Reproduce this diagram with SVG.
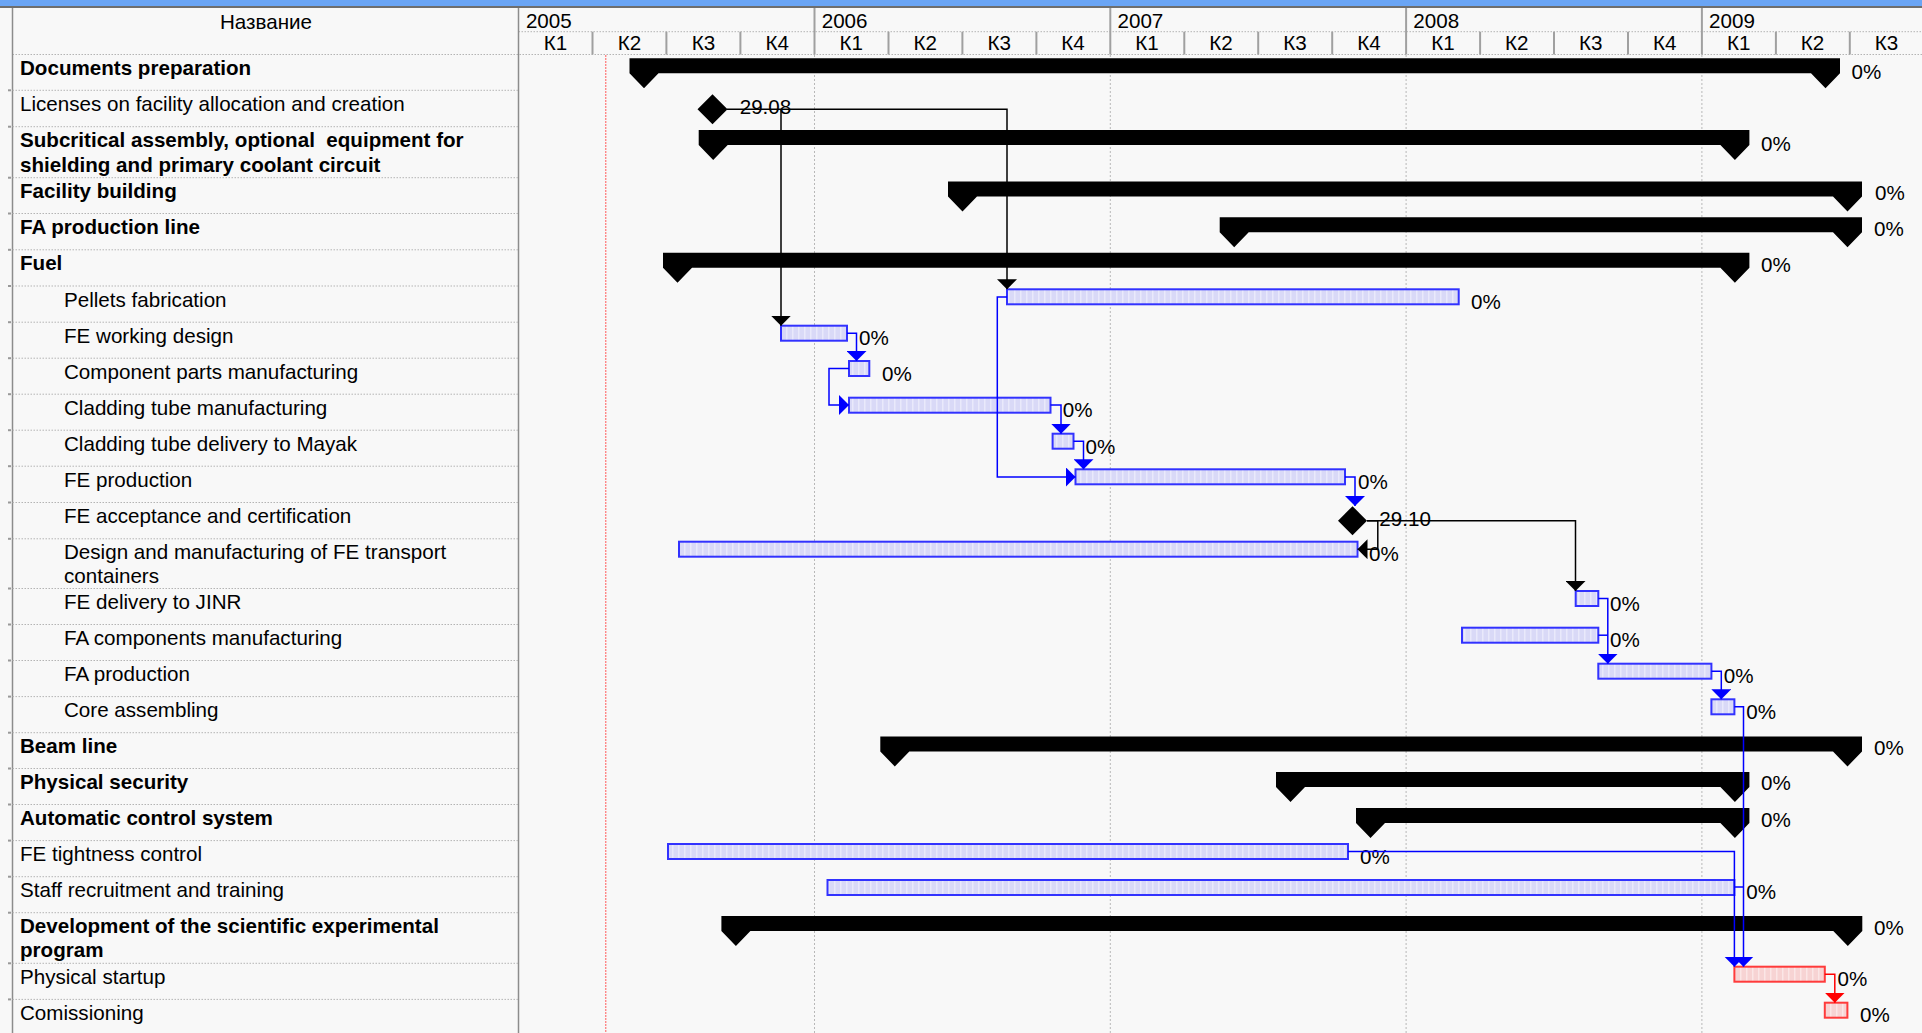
<svg xmlns="http://www.w3.org/2000/svg" width="1922" height="1033" viewBox="0 0 1922 1033">
<style>
.t{font-family:"Liberation Sans",Arial,sans-serif;font-size:20.6px;fill:#000}
.b{font-weight:bold}
.pre{white-space:pre}
.sum{fill:#000}
.task{fill:url(#hb);stroke:#3232ff;stroke-width:2}
.crit{fill:url(#hr);stroke:#ff3b3b;stroke-width:2}
.lk{fill:none;stroke:#000;stroke-width:1.5}
.lkb{fill:none;stroke:#0000ff;stroke-width:1.5}
.lkr{fill:none;stroke:#ff0000;stroke-width:1.5}
.grid{stroke:#b8b8b8;stroke-width:1;stroke-dasharray:2 2}
.row{stroke:#b4b4b4;stroke-width:1;stroke-dasharray:1.5 1.5}
.sep{stroke:#a0a0a0;stroke-width:2}
.tick{stroke:#999;stroke-width:2}
</style>
<defs>
<pattern id="hb" width="6" height="6" patternUnits="userSpaceOnUse"><rect width="6" height="6" fill="#d9d9f7"/><rect x="0" width="1.5" height="6" fill="#e9e9fb"/></pattern>
<pattern id="hr" width="6" height="6" patternUnits="userSpaceOnUse"><rect width="6" height="6" fill="#f7d3d3"/><rect x="0" width="1.5" height="6" fill="#fbe6e6"/></pattern>
<marker id="mk" viewBox="0 0 10 20" markerWidth="10" markerHeight="20" refX="10" refY="10" orient="auto" markerUnits="userSpaceOnUse"><path d="M0,0 L10,10 L0,20 Z" fill="#000"/></marker>
<marker id="mu" viewBox="0 0 10 20" markerWidth="10" markerHeight="20" refX="10" refY="10" orient="auto" markerUnits="userSpaceOnUse"><path d="M0,0 L10,10 L0,20 Z" fill="#0000ff"/></marker>
<marker id="mr" viewBox="0 0 10 20" markerWidth="10" markerHeight="20" refX="10" refY="10" orient="auto" markerUnits="userSpaceOnUse"><path d="M0,0 L10,10 L0,20 Z" fill="#ff0000"/></marker>
</defs>
<rect x="0" y="0" width="1922" height="1033" fill="#f8f8f8"/>
<rect x="0" y="0" width="1922" height="6" fill="#6aa5f5"/>
<line x1="0" y1="7" x2="1922" y2="7" stroke="#404040" stroke-width="1.5"/>

<g id="header">
<text class="t" x="266" y="28.5" text-anchor="middle">Название</text>
<line class="row" x1="518.5" y1="31.7" x2="1922" y2="31.7"/>
<line class="row" x1="12.5" y1="54.5" x2="1922" y2="54.5"/>
<g class="sep">
<line x1="814.5" y1="8" x2="814.5" y2="54.5"/><line x1="1110.3" y1="8" x2="1110.3" y2="54.5"/><line x1="1406.1" y1="8" x2="1406.1" y2="54.5"/><line x1="1701.9" y1="8" x2="1701.9" y2="54.5"/>
<line x1="592.5" y1="31.7" x2="592.5" y2="54.5"/><line x1="666.4" y1="31.7" x2="666.4" y2="54.5"/><line x1="740.4" y1="31.7" x2="740.4" y2="54.5"/>
<line x1="888.5" y1="31.7" x2="888.5" y2="54.5"/><line x1="962.4" y1="31.7" x2="962.4" y2="54.5"/><line x1="1036.4" y1="31.7" x2="1036.4" y2="54.5"/>
<line x1="1184.3" y1="31.7" x2="1184.3" y2="54.5"/><line x1="1258.2" y1="31.7" x2="1258.2" y2="54.5"/><line x1="1332.2" y1="31.7" x2="1332.2" y2="54.5"/>
<line x1="1480.1" y1="31.7" x2="1480.1" y2="54.5"/><line x1="1554" y1="31.7" x2="1554" y2="54.5"/><line x1="1628" y1="31.7" x2="1628" y2="54.5"/>
<line x1="1775.9" y1="31.7" x2="1775.9" y2="54.5"/><line x1="1849.8" y1="31.7" x2="1849.8" y2="54.5"/>
</g>
<text class="t" x="525.9" y="28.3">2005</text>
<text class="t" x="821.7" y="28.3">2006</text>
<text class="t" x="1117.5" y="28.3">2007</text>
<text class="t" x="1413.3" y="28.3">2008</text>
<text class="t" x="1709.1" y="28.3">2009</text>
<g class="t" text-anchor="middle">
<text x="555.5" y="50">К1</text><text x="629.4" y="50">К2</text><text x="703.4" y="50">К3</text><text x="777.3" y="50">К4</text>
<text x="851.3" y="50">К1</text><text x="925.2" y="50">К2</text><text x="999.2" y="50">К3</text><text x="1073.1" y="50">К4</text>
<text x="1147.1" y="50">К1</text><text x="1221" y="50">К2</text><text x="1295" y="50">К3</text><text x="1368.9" y="50">К4</text>
<text x="1442.9" y="50">К1</text><text x="1516.8" y="50">К2</text><text x="1590.8" y="50">К3</text><text x="1664.7" y="50">К4</text>
<text x="1738.7" y="50">К1</text><text x="1812.6" y="50">К2</text><text x="1886.6" y="50">К3</text>
</g>
</g>

<g id="grid">
<line x1="12.5" y1="8" x2="12.5" y2="1033" stroke="#8c8c8c" stroke-width="1.5"/>
<line x1="518.5" y1="8" x2="518.5" y2="1033" stroke="#8c8c8c" stroke-width="1.5"/>
<line class="grid" x1="814.5" y1="55" x2="814.5" y2="1033"/>
<line class="grid" x1="1110.3" y1="55" x2="1110.3" y2="1033"/>
<line class="grid" x1="1406.1" y1="55" x2="1406.1" y2="1033"/>
<line class="grid" x1="1701.9" y1="55" x2="1701.9" y2="1033"/>
<line x1="605.8" y1="55" x2="605.8" y2="1033" stroke="#ff5a5a" stroke-width="1" stroke-dasharray="2 1"/>
<g class="row">
<line x1="12.5" y1="90.3" x2="518.5" y2="90.3"/><line x1="12.5" y1="126.7" x2="518.5" y2="126.7"/><line x1="12.5" y1="177.7" x2="518.5" y2="177.7"/>
<line x1="12.5" y1="213.5" x2="518.5" y2="213.5"/><line x1="12.5" y1="249.8" x2="518.5" y2="249.8"/><line x1="12.5" y1="286" x2="518.5" y2="286"/>
<line x1="12.5" y1="322.2" x2="518.5" y2="322.2"/><line x1="12.5" y1="358.2" x2="518.5" y2="358.2"/><line x1="12.5" y1="394.2" x2="518.5" y2="394.2"/>
<line x1="12.5" y1="430.2" x2="518.5" y2="430.2"/><line x1="12.5" y1="466.2" x2="518.5" y2="466.2"/><line x1="12.5" y1="502.5" x2="518.5" y2="502.5"/>
<line x1="12.5" y1="538.8" x2="518.5" y2="538.8"/><line x1="12.5" y1="588.5" x2="518.5" y2="588.5"/><line x1="12.5" y1="624.5" x2="518.5" y2="624.5"/>
<line x1="12.5" y1="660.5" x2="518.5" y2="660.5"/><line x1="12.5" y1="696.6" x2="518.5" y2="696.6"/><line x1="12.5" y1="732.7" x2="518.5" y2="732.7"/>
<line x1="12.5" y1="768.5" x2="518.5" y2="768.5"/><line x1="12.5" y1="804.5" x2="518.5" y2="804.5"/><line x1="12.5" y1="840.6" x2="518.5" y2="840.6"/>
<line x1="12.5" y1="876.7" x2="518.5" y2="876.7"/><line x1="12.5" y1="912.7" x2="518.5" y2="912.7"/><line x1="12.5" y1="963.3" x2="518.5" y2="963.3"/>
<line x1="12.5" y1="999.4" x2="518.5" y2="999.4"/>
</g>
<g class="tick">
<line x1="8" y1="90.3" x2="11" y2="90.3"/><line x1="8" y1="126.7" x2="11" y2="126.7"/><line x1="8" y1="177.7" x2="11" y2="177.7"/>
<line x1="8" y1="213.5" x2="11" y2="213.5"/><line x1="8" y1="249.8" x2="11" y2="249.8"/><line x1="8" y1="286" x2="11" y2="286"/>
<line x1="8" y1="322.2" x2="11" y2="322.2"/><line x1="8" y1="358.2" x2="11" y2="358.2"/><line x1="8" y1="394.2" x2="11" y2="394.2"/>
<line x1="8" y1="430.2" x2="11" y2="430.2"/><line x1="8" y1="466.2" x2="11" y2="466.2"/><line x1="8" y1="502.5" x2="11" y2="502.5"/>
<line x1="8" y1="538.8" x2="11" y2="538.8"/><line x1="8" y1="588.5" x2="11" y2="588.5"/><line x1="8" y1="624.5" x2="11" y2="624.5"/>
<line x1="8" y1="660.5" x2="11" y2="660.5"/><line x1="8" y1="696.6" x2="11" y2="696.6"/><line x1="8" y1="732.7" x2="11" y2="732.7"/>
<line x1="8" y1="768.5" x2="11" y2="768.5"/><line x1="8" y1="804.5" x2="11" y2="804.5"/><line x1="8" y1="840.6" x2="11" y2="840.6"/>
<line x1="8" y1="876.7" x2="11" y2="876.7"/><line x1="8" y1="912.7" x2="11" y2="912.7"/><line x1="8" y1="963.3" x2="11" y2="963.3"/>
<line x1="8" y1="999.4" x2="11" y2="999.4"/>
</g>
</g>

<g id="n01"><text class="t b" x="20" y="75">Documents preparation</text><path class="sum" d="M629.5 58.3 H1840 V73.3 L1825.5 88.3 L1811 73.3 H658.5 L644 88.3 L629.5 73.3Z"/><text class="t" x="1851.6" y="78.5">0%</text></g>
<g id="n02"><text class="t" x="20" y="110.8">Licenses on facility allocation and creation</text><path class="sum" d="M712.5 94.3 L727.5 109.3 L712.5 124.3 L697.5 109.3Z"/><text class="t" x="739.7" y="114">29.08</text></g>
<g id="n03"><text class="t b pre" x="20" y="147.2">Subcritical assembly, optional  equipment for</text><text class="t b" x="20" y="171.5">shielding and primary coolant circuit</text><path class="sum" d="M698.7 130 H1749.4 V145 L1734.9 160 L1720.4 145 H727.7 L713.2 160 L698.7 145Z"/><text class="t" x="1761" y="151">0%</text></g>
<g id="n04"><text class="t b" x="20" y="198.2">Facility building</text><path class="sum" d="M948 181.5 H1862 V196.5 L1847.5 211.5 L1833 196.5 H977 L962.5 211.5 L948 196.5Z"/><text class="t" x="1875" y="200">0%</text></g>
<g id="n05"><text class="t b" x="20" y="234">FA production line</text><path class="sum" d="M1219.7 217.2 H1862 V232.2 L1847.5 247.2 L1833 232.2 H1248.7 L1234.2 247.2 L1219.7 232.2Z"/><text class="t" x="1874" y="236">0%</text></g>
<g id="n06"><text class="t b" x="20" y="270.3">Fuel</text><path class="sum" d="M663 252.7 H1749.4 V267.7 L1734.9 282.7 L1720.4 267.7 H692 L677.5 282.7 L663 267.7Z"/><text class="t" x="1761" y="272">0%</text></g>
<g id="n07"><text class="t" x="64" y="306.5">Pellets fabrication</text><rect class="task" x="1007" y="289.3" width="451.7" height="15"/><text class="t" x="1471" y="308.5">0%</text></g>
<g id="n08"><text class="t" x="64" y="342.7">FE working design</text><rect class="task" x="781" y="325.7" width="66" height="15"/><text class="t" x="859" y="344.5">0%</text></g>
<g id="n09"><text class="t" x="64" y="378.7">Component parts manufacturing</text><rect class="task" x="849" y="361" width="20.3" height="15"/><text class="t" x="882" y="380.5">0%</text></g>
<g id="n10"><text class="t" x="64" y="414.7">Cladding tube manufacturing</text><rect class="task" x="849" y="397.7" width="201.5" height="15"/><text class="t" x="1062.7" y="417">0%</text></g>
<g id="n11"><text class="t" x="64" y="450.7">Cladding tube delivery to Mayak</text><rect class="task" x="1052.6" y="433.7" width="20.9" height="15"/><text class="t" x="1085.5" y="453.5">0%</text></g>
<g id="n12"><text class="t" x="64" y="486.7">FE production</text><rect class="task" x="1075.5" y="469.3" width="269.5" height="15"/><text class="t" x="1358" y="489">0%</text></g>
<g id="n13"><text class="t" x="64" y="523">FE acceptance and certification</text><path class="sum" d="M1352.5 506.2 L1367 520.7 L1352.5 535.2 L1338 520.7Z"/><text class="t" x="1379.3" y="525.5">29.10</text></g>
<g id="n14"><text class="t" x="64" y="559.3">Design and manufacturing of FE transport</text><text class="t" x="64" y="582.5">containers</text><rect class="task" x="679" y="541.7" width="678.5" height="15"/><text class="t" x="1369" y="561">0%</text></g>
<g id="n15"><text class="t" x="64" y="609">FE delivery to JINR</text><rect class="task" x="1575.7" y="591" width="22.6" height="15"/><text class="t" x="1610" y="611">0%</text></g>
<g id="n16"><text class="t" x="64" y="645">FA components manufacturing</text><rect class="task" x="1462" y="627.7" width="136.3" height="15"/><text class="t" x="1610" y="647">0%</text></g>
<g id="n17"><text class="t" x="64" y="681">FA production</text><rect class="task" x="1598.3" y="663.7" width="113.1" height="15"/><text class="t" x="1723.7" y="683">0%</text></g>
<g id="n18"><text class="t" x="64" y="717.1">Core assembling</text><rect class="task" x="1711.4" y="699.3" width="23" height="15"/><text class="t" x="1746.3" y="719">0%</text></g>
<g id="n19"><text class="t b" x="20" y="753.2">Beam line</text><path class="sum" d="M880.3 736.5 H1862 V751.5 L1847.5 766.5 L1833 751.5 H909.3 L894.8 766.5 L880.3 751.5Z"/><text class="t" x="1874" y="755">0%</text></g>
<g id="n20"><text class="t b" x="20" y="789">Physical security</text><path class="sum" d="M1276 772 H1749.4 V787 L1734.9 802 L1720.4 787 H1305 L1290.5 802 L1276 787Z"/><text class="t" x="1761" y="790">0%</text></g>
<g id="n21"><text class="t b" x="20" y="825">Automatic control system</text><path class="sum" d="M1356 808 H1749.4 V823 L1734.9 838 L1720.4 823 H1385 L1370.5 838 L1356 823Z"/><text class="t" x="1761" y="827">0%</text></g>
<g id="n22"><text class="t" x="20" y="861.1">FE tightness control</text><rect class="task" x="668" y="844" width="680" height="15"/><text class="t" x="1360" y="864">0%</text></g>
<g id="n23"><text class="t" x="20" y="897.2">Staff recruitment and training</text><rect class="task" x="827.5" y="880" width="906.9" height="15"/><text class="t" x="1746.3" y="899">0%</text></g>
<g id="n24"><text class="t b" x="20" y="933.2">Development of the scientific experimental</text><text class="t b" x="20" y="957.2">program</text><path class="sum" d="M721.4 916 H1862.3 V931 L1847.8 946 L1833.3 931 H750.4 L735.9 946 L721.4 931Z"/><text class="t" x="1874" y="935">0%</text></g>
<g id="n25"><text class="t" x="20" y="983.8">Physical startup</text><rect class="crit" x="1734.4" y="966.7" width="90.4" height="15"/><text class="t" x="1837.5" y="986">0%</text></g>
<g id="n26"><text class="t" x="20" y="1019.9">Comissioning</text><rect class="crit" x="1824.8" y="1002.7" width="22.6" height="15"/><text class="t" x="1860" y="1022">0%</text></g>

<g id="connectors">
<path class="lk" marker-end="url(#mk)" d="M727 109.3 H781 V325.7"/>
<path class="lk" marker-end="url(#mk)" d="M781 109.3 H1007 V289.3"/>
<path class="lk" marker-end="url(#mk)" d="M1367 520.7 H1575.5 V591"/>
<path class="lk" marker-end="url(#mk)" d="M1367 520.7 H1377.8 V549.2 H1357.5"/>
<path class="lkb" marker-end="url(#mu)" d="M847 333.2 H856.5 V361"/>
<path class="lkb" marker-end="url(#mu)" d="M849 368.5 H829 V405 H849"/>
<path class="lkb" marker-end="url(#mu)" d="M1050.5 405 H1061 V433.7"/>
<path class="lkb" marker-end="url(#mu)" d="M1073.5 441.2 H1083.5 V469.3"/>
<path class="lkb" marker-end="url(#mu)" d="M1007 297 H997.3 V477 H1075.5"/>
<path class="lkb" marker-end="url(#mu)" d="M1345 477 H1355 V506"/>
<path class="lkb" marker-end="url(#mu)" d="M1598.3 598.5 H1607.8 V663.7"/>
<path class="lkb" d="M1598.3 635.2 H1607.8"/>
<path class="lkb" marker-end="url(#mu)" d="M1711.4 671.2 H1721.3 V699.3"/>
<path class="lkb" marker-end="url(#mu)" d="M1734.4 706.8 H1743.5 V966.7"/>
<path class="lkb" marker-end="url(#mu)" d="M1348 851.5 H1734.4 V966.7"/>
<path class="lkb" d="M1734.4 887 H1743.5"/>
<path class="lkr" marker-end="url(#mr)" d="M1824.8 974.2 H1834.8 V1002.7"/>
</g>
</svg>
